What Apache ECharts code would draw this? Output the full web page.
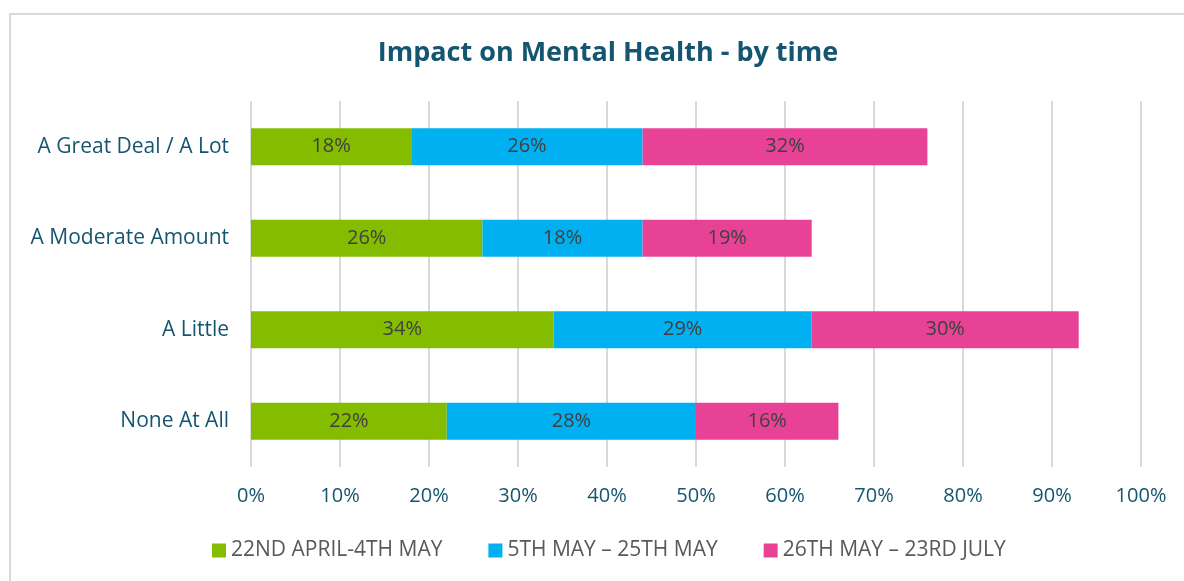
<!DOCTYPE html>
<html>
<head>
<meta charset="utf-8">
<script src="https://cdn.jsdelivr.net/npm/echarts@6/dist/echarts.min.js"></script>
<style>
  html, body { margin: 0; padding: 0; background: #fff; overflow: hidden; }
  #frame { position: absolute; left: 9px; top: 13px; width: 1400px; height: 800px; border: 2px solid #d9d9d9; box-sizing: border-box; }
  #chart { position: absolute; left: 0; top: 0; width: 1184px; height: 581px; }
</style>
</head>
<body>
<div id="frame"></div>
<div id="chart"></div>
<script>
const categories = ['A Great Deal / A Lot', 'A Moderate Amount', 'A Little', 'None At All'];
const seriesNames = ['22ND APRIL-4TH MAY', '5TH MAY \u2013 25TH MAY', '26TH MAY \u2013 23RD JULY'];
const period1 = [18, 26, 34, 22];
const period2 = [26, 18, 29, 28];
const period3 = [32, 19, 30, 16];
const colors = ['#84BD00', '#00B0F0', '#E84296'];

const font = 'Open Sans';
const chart = echarts.init(document.getElementById('chart'));
const dataSets = [period1, period2, period3];
chart.setOption({
  animation: false,
  title: {
    text: 'Impact on Mental Health - by time',
    left: 603, textAlign: 'center', top: 35,
    textStyle: { fontFamily: font, fontWeight: 'bold', fontSize: 27, color: '#145570' }
  },
  legend: {
    bottom: 15, left: 207,
    itemWidth: 14, itemHeight: 14, itemGap: 46,
    icon: 'rect',
    textStyle: { fontFamily: font, fontSize: 21, color: '#595959' },
    data: seriesNames
  },
  grid: { left: 251, right: 43, top: 101, bottom: 114 },
  xAxis: {
    type: 'value', min: 0, max: 100, interval: 10,
    axisLabel: { formatter: '{value}%', fontFamily: font, fontSize: 20, color: '#145570', margin: 19 },
    splitLine: { lineStyle: { color: '#d9d9d9', width: 2 } },
    axisLine: { show: false }, axisTick: { show: false }
  },
  yAxis: {
    type: 'category', data: categories, inverse: true,
    axisLabel: { fontFamily: font, fontSize: 21, color: '#145570', margin: 22 },
    axisLine: { show: false }, axisTick: { show: false }
  },
  series: dataSets.map((d, i) => ({
    name: seriesNames[i], type: 'bar', stack: 'total', barWidth: 37,
    data: d,
    itemStyle: { color: colors[i] },
    label: { show: true, position: 'inside', formatter: '{c}%', fontFamily: font, fontSize: 20, color: '#404040' }
  }))
});
</script>
</body>
</html>
